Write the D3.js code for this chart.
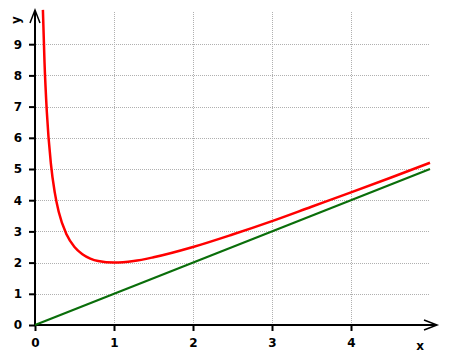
<!DOCTYPE html>
<html><head><meta charset="utf-8">
<script src="https://cdn.jsdelivr.net/npm/d3@7"></script>
<style>body{margin:0;background:#fff}svg{display:block}</style>
</head><body>
<script>
const xTicks = [0, 1, 2, 3, 4];
const yTicks = [0, 1, 2, 3, 4, 5, 6, 7, 8, 9];
const redX = [0.1, 0.12, 0.15, 0.2, 0.25, 0.3, 0.4, 0.5, 0.6, 0.7, 0.8, 1, 1.25, 1.5, 2, 2.5, 3, 3.5, 4, 4.5, 5];
const redY = [10.1, 8.45, 6.82, 5.2, 4.25, 3.63, 2.9, 2.5, 2.27, 2.13, 2.05, 2.0, 2.05, 2.17, 2.5, 2.9, 3.33, 3.79, 4.25, 4.72, 5.2];
const greenX = [0, 5];
const greenY = [0, 5];

const W = 450, H = 360;
const svg = d3.select("body").append("svg").attr("width", W).attr("height", H);
const x = d3.scaleLinear().domain([0, 5]).range([35, 430]);
const y = d3.scaleLinear().domain([0, 10]).range([325, 13]);
const font = "'DejaVu Sans', sans-serif";

// grid
const grid = svg.append("g").attr("stroke", "#b0b0b0").attr("stroke-width", 1).attr("stroke-dasharray", "1,1");
grid.selectAll(".v").data(xTicks.filter(d => d > 0)).join("line")
  .attr("x1", d => Math.round(x(d)) + 0.5).attr("x2", d => Math.round(x(d)) + 0.5)
  .attr("y1", 12).attr("y2", 325);
grid.selectAll(".h").data(yTicks.filter(d => d > 0)).join("line")
  .attr("y1", d => Math.round(y(d)) + 0.5).attr("y2", d => Math.round(y(d)) + 0.5)
  .attr("x1", 36).attr("x2", 430);

// axes via d3
const xAxis = svg.append("g").attr("transform", "translate(0,325)")
  .call(d3.axisBottom(x).tickValues(xTicks).tickSize(6).tickPadding(7).tickFormat(d3.format("d")));
const yAxis = svg.append("g").attr("transform", "translate(35,0)")
  .call(d3.axisLeft(y).tickValues(yTicks).tickSize(6).tickPadding(7).tickFormat(d3.format("d")));
[xAxis, yAxis].forEach(a => {
  a.select(".domain").remove();
  a.selectAll(".tick line").attr("stroke", "#000").attr("stroke-width", 2);
  a.selectAll(".tick text").attr("fill", "#000").style("font-family", font)
    .style("font-weight", "bold").style("font-size", "12px");
});

// main axis lines
svg.append("line").attr("x1", 35).attr("x2", 436).attr("y1", 325).attr("y2", 325).attr("stroke", "#000").attr("stroke-width", 2);
svg.append("line").attr("x1", 35).attr("x2", 35).attr("y1", 325).attr("y2", 11).attr("stroke", "#000").attr("stroke-width", 2);
// arrows
svg.append("path").attr("d", "M424,320 L437,325 L424,330").attr("fill", "none").attr("stroke", "#000").attr("stroke-width", 1.5);
svg.append("path").attr("d", "M30,23 L35,10 L40,23").attr("fill", "none").attr("stroke", "#000").attr("stroke-width", 1.5);

// curves
const line = d3.line().x(d => x(d[0])).y(d => y(d[1])).curve(d3.curveMonotoneX);
svg.append("path").datum(greenX.map((v, i) => [v, greenY[i]])).attr("d", line)
  .attr("fill", "none").attr("stroke", "#0a6e0a").attr("stroke-width", 2.2);
svg.append("path").datum(redX.map((v, i) => [v, redY[i]])).attr("d", line)
  .attr("fill", "none").attr("stroke", "#ff0000").attr("stroke-width", 2.5);

// axis labels
svg.append("text").attr("x", 420).attr("y", 350).attr("text-anchor", "middle")
  .style("font-family", font).style("font-weight", "bold").style("font-size", "12px").text("x");
svg.append("text").attr("transform", "translate(20,20) rotate(-90)").attr("text-anchor", "middle")
  .style("font-family", font).style("font-weight", "bold").style("font-size", "12px").text("y");
</script>
</body></html>
